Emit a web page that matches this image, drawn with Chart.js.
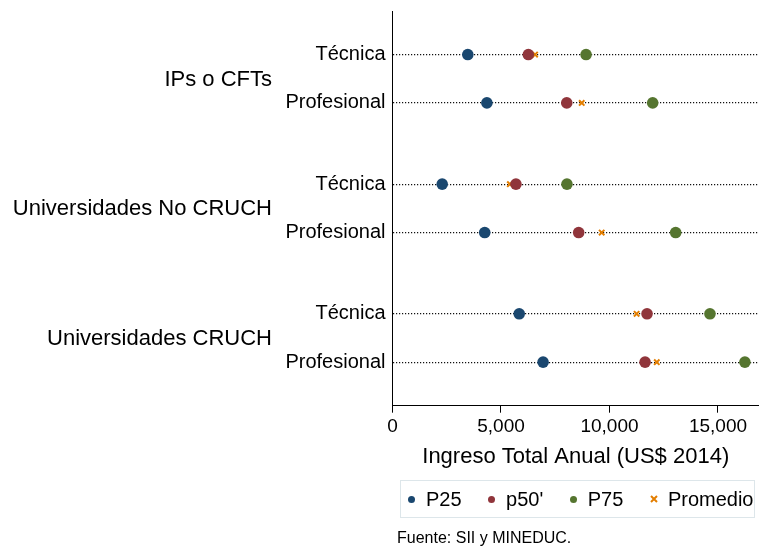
<!DOCTYPE html>
<html>
<head>
<meta charset="utf-8">
<script src="https://cdn.jsdelivr.net/npm/chart.js@4"></script>
<style>
  html, body { margin: 0; padding: 0; background: #fff; }
  #wrap { position: relative; width: 759px; height: 547px; font-family: "Liberation Sans", Arial, sans-serif; }
  #legend {
    position: absolute; left: 400px; top: 480px; width: 355px; height: 38px;
    border: 1px solid #dde6ea; display: flex; align-items: center;
    padding-left: 7px; box-sizing: border-box; font-size: 20px; color: #000;
  }
  .item { display: flex; align-items: center; margin-right: 26.5px; }
  .dot { width: 7px; height: 7px; border-radius: 50%; margin-right: 11px; }
  #note { position: absolute; left: 397px; top: 529px; font-size: 16px; color: #000; }
</style>
</head>
<body>
<div id="wrap">
  <canvas id="chart" width="759" height="547"></canvas>
  <div id="legend"></div>
  <div id="note">Fuente: SII y MINEDUC.</div>
</div>
<script>
// rows: each group has Técnica then Profesional
const groups = ['IPs o CFTs', 'Universidades No CRUCH', 'Universidades CRUCH'];
const levels = ['Técnica', 'Profesional'];

const p25 = [3470, 4350, 2290, 4250, 5840, 6940];
const p50 = [6260, 8030, 5690, 8580, 11730, 11640];
const p75 = [8920, 11990, 8040, 13050, 14630, 16240];
const promedio = [6570, 8720, 5410, 9640, 11250, 12180];

const xTicks = [0, 5000, 10000, 15000];

const FONT = '"Liberation Sans", Arial, sans-serif';
const GROUP_STEP = 2.68; // spacing between groups, in row units

const rowPos = [];
const rowLabels = [];
groups.forEach((g, gi) => {
    levels.forEach((l, li) => {
        rowPos.push(gi * GROUP_STEP + li);
        rowLabels.push(l);
    });
});

const series = [
    { label: 'P25', values: p25, color: '#1a476f', style: 'circle' },
    { label: "p50'", values: p50, color: '#90353b', style: 'circle' },
    { label: 'P75', values: p75, color: '#55752f', style: 'circle' },
    { label: 'Promedio', values: promedio, color: '#e37e00', style: 'crossRot' }
];

const datasets = series.map(s => ({
    label: s.label,
    data: s.values.map((v, i) => ({ x: v, y: rowPos[i] })),
    pointStyle: s.style,
    pointRadius: s.style === 'circle' ? 5.8 : 3.8,
    borderWidth: s.style === 'circle' ? 0 : 2,
    backgroundColor: s.color,
    borderColor: s.color,
    showLine: false,
    clip: false
}));

// group labels on the left side
const groupLabels = {
    id: 'groupLabels',
    afterDraw(chart) {
        const ctx = chart.ctx;
        const y = chart.scales.y;
        ctx.save();
        ctx.font = '22px ' + FONT;
        ctx.fillStyle = '#000';
        ctx.textAlign = 'right';
        ctx.textBaseline = 'middle';
        groups.forEach((g, gi) => {
            const mid = gi * GROUP_STEP + 0.5;
            ctx.fillText(g, 272, y.getPixelForValue(mid) + 1);
        });
        ctx.restore();
    }
};

new Chart(document.getElementById('chart'), {
    type: 'scatter',
    data: { datasets },
    options: {
        responsive: false,
        animation: false,
        layout: { autoPadding: false, padding: { top: 11, right: 0, bottom: 0, left: 0 } },
        plugins: { legend: { display: false }, tooltip: { enabled: false } },
        scales: {
            x: {
                type: 'linear',
                min: 0,
                max: 16890,
                afterFit: s => { s.height = 141.3; s.paddingLeft = 0; s.paddingRight = 0; },
                afterBuildTicks: s => { s.ticks = xTicks.map(v => ({ value: v })); },
                grid: { drawOnChartArea: false, drawTicks: true, tickLength: 7, color: '#000', lineWidth: 1 },
                border: { display: true, color: '#000', width: 1 },
                ticks: {
                    color: '#000',
                    font: { family: FONT, size: 19 },
                    padding: 3,
                    maxRotation: 0,
                    callback: v => v.toLocaleString('en-US')
                },
                title: {
                    display: true,
                    text: 'Ingreso Total Anual (US$ 2014)',
                    color: '#000',
                    font: { family: FONT, size: 22 },
                    padding: { top: 0, bottom: 77 }
                }
            },
            y: {
                type: 'linear',
                reverse: true,
                min: -0.9,
                max: rowPos[rowPos.length - 1] + 0.9,
                afterFit: s => { s.width = 392.5; s.paddingTop = 0; s.paddingBottom = 0; },
                afterBuildTicks: s => { s.ticks = rowPos.map(v => ({ value: v })); },
                grid: { drawOnChartArea: true, drawTicks: false, color: '#111', lineWidth: 1.2 },
                border: { display: true, color: '#000', width: 1, dash: [1.2, 1.8] },
                ticks: {
                    color: '#000',
                    font: { family: FONT, size: 20 },
                    padding: 7,
                    callback: (v) => {
                        const i = rowPos.indexOf(v);
                        return i >= 0 ? rowLabels[i] : '';
                    }
                }
            }
        }
    },
    plugins: [groupLabels]
});

// HTML legend
const legend = document.getElementById('legend');
series.forEach(s => {
    const item = document.createElement('div');
    item.className = 'item';
    let mark;
    if (s.style === 'circle') {
        mark = `<div class="dot" style="background:${s.color}"></div>`;
    } else {
        mark = `<svg width="8" height="8" style="margin-right:10px"><path d="M1 1L7 7M7 1L1 7" stroke="${s.color}" stroke-width="2"/></svg>`;
    }
    item.innerHTML = mark + `<span>${s.label}</span>`;
    legend.appendChild(item);
});
</script>
</body>
</html>
